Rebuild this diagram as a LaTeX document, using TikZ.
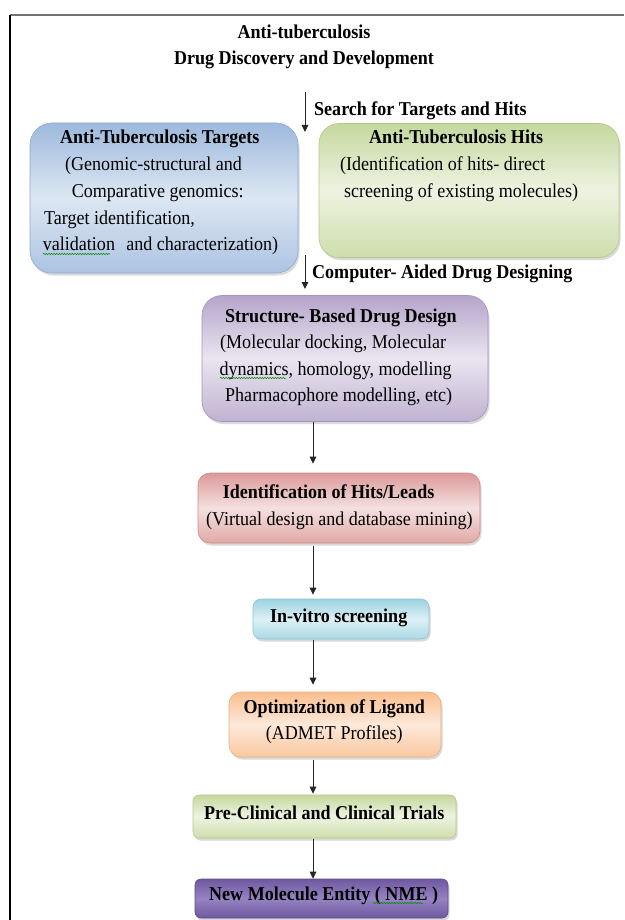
\documentclass[tikz,border=0pt]{standalone}
\usepackage{fontspec}
\setmainfont{Liberation Serif}[FakeStretch=0.92]
\usetikzlibrary{shadows,arrows.meta,decorations.pathmorphing}
\definecolor{bluedk}{HTML}{9DB9DC}
\definecolor{bluelt}{HTML}{DDE7F3}
\definecolor{bluebd}{HTML}{8FAAD0}
\definecolor{grndk}{HTML}{C5D89E}
\definecolor{grnlt}{HTML}{EEF3E1}
\definecolor{grnbd}{HTML}{B5C98C}
\definecolor{purdk}{HTML}{B5A4CA}
\definecolor{purlt}{HTML}{EAE5F0}
\definecolor{purbd}{HTML}{A593BD}
\definecolor{reddk}{HTML}{DB9A98}
\definecolor{redlt}{HTML}{F4E0E0}
\definecolor{redbd}{HTML}{CC8A88}
\definecolor{cyandk}{HTML}{9DD2E0}
\definecolor{cyanlt}{HTML}{DDF0F5}
\definecolor{cyanbd}{HTML}{8CC3D2}
\definecolor{orgdk}{HTML}{F9BE8E}
\definecolor{orglt}{HTML}{FDE9DA}
\definecolor{orgbd}{HTML}{EBAE7E}
\definecolor{nmedk}{HTML}{6F58A0}
\definecolor{nmelt}{HTML}{9683C2}
\definecolor{nmebd}{HTML}{5E4A86}
\begin{document}
\begin{tikzpicture}[x=1pt,y=-1pt,
  box/.style={rounded corners=#1, line width=0.6pt, inner sep=0pt,
    drop shadow={opacity=0.3, shadow xshift=1.5pt, shadow yshift=-2.5pt}},
  fillblue/.style={draw=bluebd, top color=bluedk, bottom color=bluedk!85!white, middle color=bluelt},
  fillgreen/.style={draw=grnbd, top color=grndk, bottom color=grndk!85!white, middle color=grnlt},
  fillpurple/.style={draw=purbd, top color=purdk, bottom color=purdk!85!white, middle color=purlt},
  fillred/.style={draw=redbd, top color=reddk, bottom color=reddk!85!white, middle color=redlt},
  fillcyan/.style={draw=cyanbd, top color=cyandk, bottom color=cyandk!85!white, middle color=cyanlt},
  fillorange/.style={draw=orgbd, top color=orgdk, bottom color=orgdk!85!white, middle color=orglt},
  fillnme/.style={draw=nmebd, top color=nmedk, bottom color=nmedk, middle color=nmelt},
  tx/.style={inner sep=0pt, anchor=base west, font=\fontsize{19.6}{26.7}\selectfont},
  txb/.style={inner sep=0pt, anchor=base west, font=\fontsize{19.6}{26.7}\selectfont\bfseries},
  arr/.style={draw=black!85, line width=1pt, -{Triangle[length=7pt,width=6.5pt]}},
  squig/.style={draw=green!55!black, line width=0.5pt, decorate,
    decoration={snake, amplitude=0.7pt, segment length=2.6pt}},
  frameline/.style={line width=1.4pt}
]
\useasboundingbox (0,0) rectangle (624,920);
% frame
\draw[frameline, draw=black!55] (10,15) -- (624,15);
\draw[frameline, draw=black] (10,15) -- (10,920);

% title
\node[inner sep=0pt, anchor=base, font=\fontsize{19.6}{26.7}\selectfont\bfseries] (title1) at (304,38.5) {Anti-tuberculosis};
\node[inner sep=0pt, anchor=base, font=\fontsize{19.6}{26.7}\selectfont\bfseries] (title2) at (304,64.5) {Drug Discovery and Development};

% boxes
\node[box=22, fillblue, minimum width=268pt, minimum height=150pt] (targets) at (164,198) {};
\node[box=20, fillgreen, minimum width=300pt, minimum height=134pt] (hits) at (469,190.5) {};
\node[box=20, fillpurple, minimum width=286pt, minimum height=126pt] (sbdd) at (345,358.5) {};
\node[box=12, fillred, minimum width=282pt, minimum height=70pt] (leads) at (339,508) {};
\node[box=8, fillcyan, minimum width=176pt, minimum height=40pt] (invitro) at (341,619) {};
\node[box=12, fillorange, minimum width=212pt, minimum height=65pt] (ligand) at (335,724.5) {};
\node[box=6, fillgreen, minimum width=263pt, minimum height=43pt] (trials) at (324.5,816.5) {};
\node[box=6, fillnme, minimum width=253pt, minimum height=39pt] (nme) at (321.5,898.5) {};

% texts
\node[txb] (targets1) at (60,144) {Anti-Tuberculosis Targets};
\node[tx] (targets2) at (65,170.7) {(Genomic-structural and};
\node[tx] (targets3) at (71.7,197.4) {Comparative genomics:};
\node[tx] (targets4) at (44,224) {Target identification,};
\node[tx] (targets5) at (42.7,250.8) {validation\hspace{0.35em} and characterization)};

\node[txb] (hits1) at (369,144) {Anti-Tuberculosis Hits};
\node[tx] (hits2) at (340,170.7) {(Identification of hits- direct};
\node[tx] (hits3) at (344,197.4) {screening of existing molecules)};

\node[txb] (sbdd1) at (225,322) {Structure- Based Drug Design};
\node[tx] (sbdd2) at (220,348.5) {(Molecular docking, Molecular};
\node[tx] (sbdd3) at (219.3,375) {dynamics, homology, modelling};
\node[tx] (sbdd4) at (225,401) {Pharmacophore modelling, etc)};

\node[txb] (leads1) at (222.7,498.3) {Identification of Hits/Leads};
\node[tx] (leads2) at (206,525) {(Virtual design and database mining)};

\node[txb] (invitro1) at (270,622.7) {In-vitro screening};

\node[txb] (ligand1) at (243.3,713.3) {Optimization of Ligand};
\node[tx] (ligand2) at (265.7,739.3) {(ADMET Profiles)};

\node[txb] (trials1) at (204,819.3) {Pre-Clinical and Clinical Trials};

\node[txb] (nme1) at (209,900.7) {New Molecule Entity ( NME )};

% arrow labels
\node[txb] (lab1) at (314,116) {Search for Targets and Hits};
\node[txb] (lab2) at (312,278.5) {Computer- Aided Drug Designing};

% connectors
\coordinate (a1s) at (305,92);
\coordinate (a1e) at (305,132);
\coordinate (a2s) at (305,255);
\coordinate (a2e) at (305,289);
\draw[arr] (a1s) -- (a1e);
\draw[arr] (a2s) -- (a2e);
\coordinate (col) at (313,0);
\draw[arr, shorten >=9pt] (sbdd.south -| col) -- (leads.north -| col);
\draw[arr, shorten <=3pt, shorten >=4pt] (leads.south -| col) -- (invitro.north -| col);
\draw[arr, shorten <=1pt, shorten >=7pt] (invitro.south -| col) -- (ligand.north -| col);
\draw[arr, shorten <=3pt, shorten >=1pt] (ligand.south -| col) -- (trials.north -| col);
\draw[arr, shorten <=1pt] (trials.south -| col) -- (nme.north -| col);

% spell-check squiggles
\draw[squig] (43,254) -- (110,254);
\draw[squig] (220,378) -- (286,378);
\draw[squig] (373,903) -- (423,903);
\end{tikzpicture}
\end{document}
